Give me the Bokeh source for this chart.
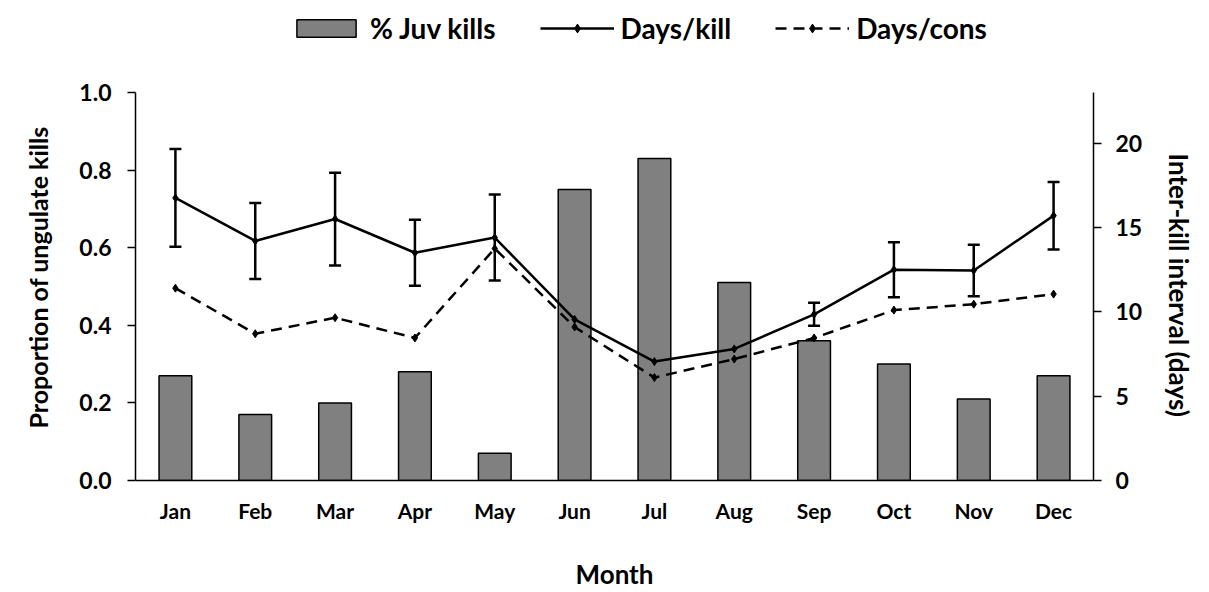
from bokeh.plotting import figure
from bokeh.models import (ColumnDataSource, Range1d, FactorRange, LinearAxis, FixedTicker,
                          Whisker, TeeHead, Legend, LegendItem, NumeralTickFormatter, Title)
from bokeh.embed import file_html
from bokeh.resources import INLINE

months = ["Jan", "Feb", "Mar", "Apr", "May", "Jun", "Jul", "Aug", "Sep", "Oct", "Nov", "Dec"]
juv_kills = [0.27, 0.17, 0.20, 0.28, 0.07, 0.75, 0.83, 0.51, 0.36, 0.30, 0.21, 0.27]
days_per_kill = [16.75, 14.2, 15.5, 13.5, 14.4, 9.55, 7.05, 7.8, 9.85, 12.5, 12.45, 15.7]
days_per_kill_se = [2.9, 2.25, 2.75, 1.95, 2.55, 1.4, 0.95, 0.7, 0.68, 1.63, 1.53, 2.0]
days_per_cons = [11.4, 8.7, 9.65, 8.45, 13.75, 9.1, 6.1, 7.2, 8.45, 10.1, 10.45, 11.05]
left_ticks = [0.0, 0.2, 0.4, 0.6, 0.8, 1.0]
right_ticks = [0, 5, 10, 15, 20]
left_max = 1.0
right_max = 23

FONT = "Lato"

# The drawing area reaches the top of the page so the legend can sit above the axes;
# the axes themselves are bounded to their data extents.
AXIS_PX = 388       # height of the axes proper
HEADROOM_PX = 92    # space above the axes for the legend

src = ColumnDataSource(dict(
    month=months,
    juv=juv_kills,
    kill=days_per_kill,
    up=[m + e for m, e in zip(days_per_kill, days_per_kill_se)],
    lo=[m - e for m, e in zip(days_per_kill, days_per_kill_se)],
    cons=days_per_cons,
))

scale = (AXIS_PX + HEADROOM_PX) / AXIS_PX
p = figure(width=1209, height=592, x_range=FactorRange(*months, range_padding=0),
           y_range=Range1d(0, left_max * scale), output_backend="svg", toolbar_location=None,
           min_border_left=135, min_border_right=113, min_border_top=0, min_border_bottom=112)
p.x_range.factor_padding = 0
p.extra_y_ranges = {"days": Range1d(0, right_max * scale)}
p.outline_line_color = None
p.xgrid.visible = False
p.ygrid.visible = False
p.background_fill_color = "white"
p.border_fill_color = "white"

bars = p.vbar(x="month", top="juv", width=0.41, source=src, fill_color="#808080",
              line_color="#000000", line_width=1.5)

kill_line = p.line(x="month", y="kill", source=src, y_range_name="days",
                   line_color="black", line_width=2.5)
kill_pts = p.scatter(x="month", y="kill", source=src, y_range_name="days", marker="diamond",
                     size=8, fill_color="black", line_color="black")
cons_line = p.line(x="month", y="cons", source=src, y_range_name="days",
                   line_color="black", line_width=2.5, line_dash="11 7")
cons_pts = p.scatter(x="month", y="cons", source=src, y_range_name="days", marker="diamond",
                     size=8, fill_color="black", line_color="black")

whisk = Whisker(source=src, base="month", upper="up", lower="lo", y_range_name="days",
                line_width=2.5, line_color="black",
                upper_head=TeeHead(size=12, line_width=2.5, line_color="black"),
                lower_head=TeeHead(size=12, line_width=2.5, line_color="black"))
p.add_layout(whisk)

# left axis
ya = p.yaxis[0]
ya.ticker = FixedTicker(ticks=left_ticks)
ya.formatter = NumeralTickFormatter(format="0.0")
ya.bounds = (0, left_max)

# right axis
ra = LinearAxis(y_range_name="days", ticker=FixedTicker(ticks=right_ticks),
                bounds=(0, right_max))
p.add_layout(ra, "right")

xa = p.xaxis[0]
xa.axis_label = "Month"

for ax in [ya, ra, xa]:
    ax.axis_line_color = "black"
    ax.axis_line_width = 1.5
    ax.major_tick_line_width = 1.5
    ax.major_tick_line_color = "black"
    ax.major_tick_out = 8
    ax.major_tick_in = 0
    ax.minor_tick_line_color = None
    ax.major_label_text_font = FONT
    ax.major_label_text_font_style = "bold"
    ax.major_label_text_font_size = "23px"
    ax.major_label_text_color = "black"
    ax.axis_label_text_font = FONT
    ax.axis_label_text_font_style = "bold"
    ax.axis_label_text_font_size = "26px"
    ax.axis_label_text_color = "black"

xa.major_tick_line_color = None
xa.major_label_text_font_size = "21px"
xa.major_label_standoff = 9
xa.axis_label_standoff = 32
ya.major_label_standoff = 16
ra.major_label_standoff = 14
ra.major_label_orientation = "horizontal"

# vertical axis titles, positioned along the bounded axes rather than the full drawing area
left_title = Title(text="Proportion of ungulate kills", align="left", offset=52,
                   vertical_align="top", standoff=44, text_font=FONT, text_font_style="bold",
                   text_font_size="25px", text_color="black")
p.add_layout(left_title, "left")
right_title = Title(text="Inter-kill interval (days)", align="left", offset=153,
                    vertical_align="top", standoff=30, text_font=FONT, text_font_style="bold",
                    text_font_size="26px", text_color="black")
p.add_layout(right_title, "right")

legend = Legend(items=[
    LegendItem(label="% Juv kills", renderers=[bars]),
    LegendItem(label="Days/kill", renderers=[kill_line, kill_pts]),
    LegendItem(label="Days/cons", renderers=[cons_line, cons_pts]),
], orientation="horizontal", location=(154, 435))
legend.label_text_font = FONT
legend.label_text_font_style = "bold"
legend.label_text_font_size = "28px"
legend.label_text_color = "black"
legend.glyph_width = 74
legend.glyph_height = 22
legend.label_standoff = 7
legend.spacing = 44
legend.padding = 0
legend.margin = 0
legend.border_line_color = None
legend.background_fill_alpha = 0
p.add_layout(legend, "center")

open("out.html", "w").write(file_html(p, INLINE))
